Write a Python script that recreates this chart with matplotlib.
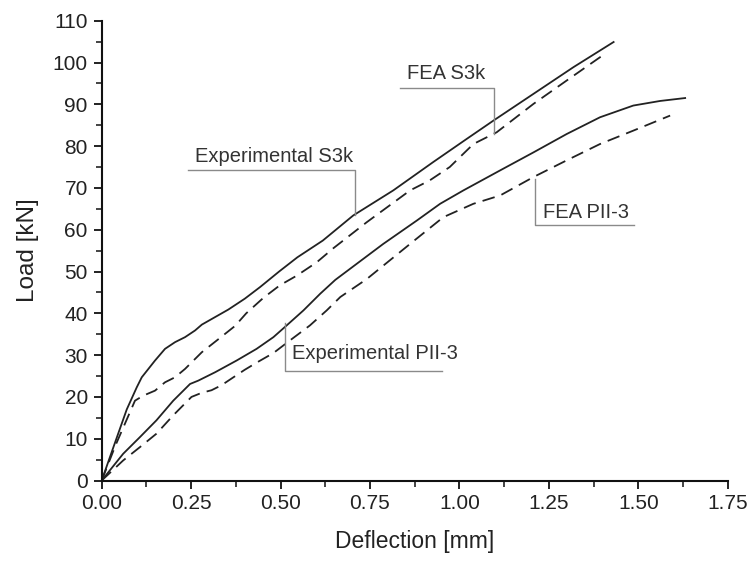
import matplotlib
matplotlib.use('Agg')
import matplotlib.pyplot as plt
from matplotlib.ticker import MultipleLocator

plt.rcParams['font.family'] = ['Liberation Sans', 'DejaVu Sans']

# ── data (deflection mm, load kN) ──
exp_s3k_x = [0.0, 0.039, 0.07, 0.098, 0.112, 0.149, 0.177, 0.205, 0.233, 0.261, 0.28,
             0.317, 0.354, 0.40, 0.443, 0.496, 0.547, 0.618, 0.703, 0.815, 0.927,
             1.020, 1.095, 1.207, 1.319, 1.431]
exp_s3k_y = [0.0, 9.5, 17.0, 22.3, 24.7, 28.7, 31.5, 33.1, 34.3, 35.9, 37.3,
             39.1, 40.9, 43.5, 46.3, 50.0, 53.4, 57.4, 63.4, 69.4, 76.2,
             81.7, 86.1, 92.5, 98.9, 104.9]

fea_s3k_x = [0.0, 0.039, 0.093, 0.116, 0.149, 0.177, 0.205, 0.233, 0.28, 0.326, 0.373,
             0.404, 0.452, 0.498, 0.545, 0.601, 0.648, 0.741, 0.862, 0.917, 0.973,
             1.039, 1.104, 1.207, 1.300, 1.407]
fea_s3k_y = [0.0, 8.5, 19.1, 20.3, 21.5, 23.5, 24.7, 26.7, 30.7, 33.8, 37.0,
             40.0, 43.7, 46.7, 49.0, 52.2, 55.6, 61.8, 69.4, 71.8, 75.0,
             80.5, 83.3, 90.1, 95.7, 102.1]

exp_pii_x = [0.0, 0.060, 0.107, 0.153, 0.200, 0.247, 0.27, 0.317, 0.377, 0.433,
             0.480, 0.517, 0.564, 0.611, 0.653, 0.787, 0.881, 0.946, 1.011, 1.114,
             1.207, 1.300, 1.393, 1.486, 1.561, 1.631]
exp_pii_y = [0.0, 6.4, 10.4, 14.4, 19.1, 23.1, 23.9, 25.9, 28.7, 31.5,
             34.3, 37.1, 40.7, 44.7, 48.0, 56.6, 62.2, 66.2, 69.4, 74.2,
             78.5, 82.9, 86.9, 89.7, 90.8, 91.5]

fea_pii_x = [0.0, 0.060, 0.107, 0.153, 0.200, 0.251, 0.28, 0.307, 0.335, 0.363, 0.40,
             0.433, 0.480, 0.526, 0.582, 0.629, 0.667, 0.741, 0.862, 0.955, 1.039,
             1.114, 1.207, 1.300, 1.393, 1.486, 1.589]
fea_pii_y = [0.0, 4.8, 8.0, 11.2, 15.6, 20.0, 21.0, 21.6, 22.8, 24.4, 26.5,
             28.2, 30.5, 33.5, 37.1, 40.7, 43.9, 48.2, 56.6, 63.0, 66.2,
             68.2, 72.6, 76.6, 80.5, 83.7, 87.3]

# label text, text anchor, leader polyline
labels = ['FEA S3k', 'Experimental S3k', 'FEA PII-3', 'Experimental PII-3']
label_xy = [(0.854, 97.3), (0.261, 77.5), (1.234, 64.2), (0.532, 30.3)]
leader_x = [[0.834, 1.096, 1.096], [0.241, 0.708, 0.708],
            [1.211, 1.211, 1.488], [0.512, 0.512, 0.951]]
leader_y = [[93.8, 93.8, 83.0], [74.2, 74.2, 63.4],
            [72.2, 61.2, 61.2], [37.6, 26.3, 26.3]]

fig = plt.figure(figsize=(7.5, 5.64), dpi=100)
ax = fig.add_axes([0.1356, 0.148, 0.8347, 0.8153])

dash = (0, (7, 4))
ax.plot(exp_s3k_x, exp_s3k_y, color='#222222', lw=1.3)
ax.plot(fea_s3k_x, fea_s3k_y, color='#222222', lw=1.3, linestyle=dash)
ax.plot(exp_pii_x, exp_pii_y, color='#222222', lw=1.3)
ax.plot(fea_pii_x, fea_pii_y, color='#222222', lw=1.3, linestyle=dash)

for lab, (tx, ty), lx, ly in zip(labels, label_xy, leader_x, leader_y):
    ax.plot(lx, ly, color='#8a8a8a', lw=1.0)
    ax.text(tx, ty, lab, fontsize=14.5, color='#333333', ha='left', va='center')

ax.set_xlim(0, 1.75)
ax.set_ylim(0, 110)
ax.xaxis.set_major_locator(MultipleLocator(0.25))
ax.xaxis.set_minor_locator(MultipleLocator(0.125))
ax.yaxis.set_major_locator(MultipleLocator(10))
ax.yaxis.set_minor_locator(MultipleLocator(5))
ax.xaxis.set_major_formatter(plt.FormatStrFormatter('%.2f'))

ax.spines['top'].set_visible(False)
ax.spines['right'].set_visible(False)
for s in ('left', 'bottom'):
    ax.spines[s].set_linewidth(1.5)
    ax.spines[s].set_color('#111111')
ax.tick_params(which='major', length=6, width=1.3, labelsize=15, colors='#111111', pad=4)
ax.tick_params(which='minor', length=4, width=1.1, colors='#111111')
for t in ax.get_xticklabels() + ax.get_yticklabels():
    t.set_color('#222222')

ax.set_xlabel('Deflection [mm]', fontsize=16.5, color='#222222', labelpad=12)
ax.set_ylabel('Load [kN]', fontsize=17.5, color='#222222', labelpad=10)

fig.savefig('out.png', dpi=100, facecolor='white')
